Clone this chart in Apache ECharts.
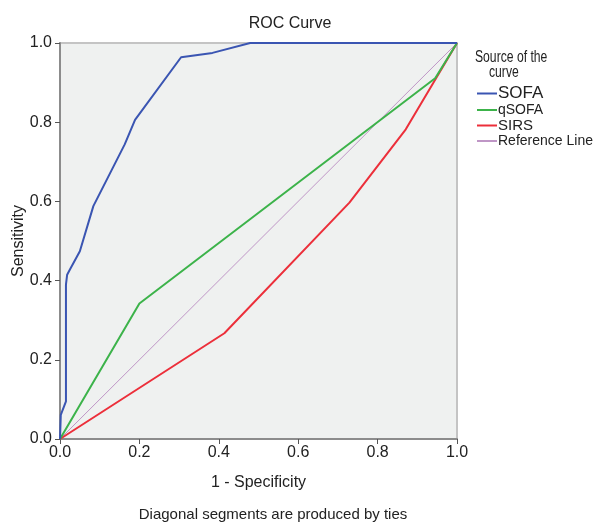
<!DOCTYPE html>
<html><head><meta charset="utf-8">
<script src="https://cdn.jsdelivr.net/npm/echarts@6/dist/echarts.min.js"></script>
<style>html,body{margin:0;padding:0;background:#fff}#c{width:595px;height:525px}</style>
</head><body><div id="c"></div>
<script>
const FONT = '"Liberation Sans Narrow", "Liberation Sans", Arial, sans-serif';
const seriesNames = ['SOFA', 'qSOFA', 'SIRS', 'Reference Line'];
const sofaX = [0, 0.002, 0.015, 0.015, 0.018, 0.025, 0.05, 0.084, 0.163, 0.189, 0.305, 0.384, 0.479, 1.0];
const sofaY = [0, 0.061, 0.095, 0.39, 0.415, 0.428, 0.474, 0.588, 0.744, 0.806, 0.964, 0.975, 1.0, 1.0];
const qsofaX = [0, 0.2, 0.945, 1.0];
const qsofaY = [0, 0.342, 0.911, 1.0];
const sirsX = [0, 0.414, 0.729, 0.871, 1.0];
const sirsY = [0, 0.267, 0.597, 0.782, 1.0];
const refX = [0, 1];
const refY = [0, 1];
const colors = ['#3a55b2', '#3cb34a', '#ec2f3a', '#bf96c6'];
const widths = [2, 2, 2, 1];
const xs = [sofaX, qsofaX, sirsX, refX];
const ys = [sofaY, qsofaY, sirsY, refY];
const legendFont = {SOFA: 17, qSOFA: 14, SIRS: 15, 'Reference Line': 14};

const chart = echarts.init(document.getElementById('c'), null, {renderer: 'canvas'});
const rich = {};
seriesNames.forEach((n, i) => { rich['r' + i] = {fontSize: legendFont[n], fontFamily: FONT, color: '#222', lineHeight: 15}; });
const labelStyle = {fontFamily: FONT, fontSize: 16, color: '#222', formatter: v => v.toFixed(1)};
const axisCommon = {
  type: 'value', min: 0, max: 1, interval: 0.2,
  axisLine: {show: true, lineStyle: {color: '#8c8c8c', width: 2}},
  axisTick: {show: true, length: 5, lineStyle: {color: '#555', width: 1}},
  splitLine: {show: false},
  nameMoveOverlap: false,
  nameTextStyle: {fontFamily: FONT, fontSize: 16, color: '#222'}
};
chart.setOption({
  animation: false,
  backgroundColor: '#fff',
  grid: {left: 60, right: 138, top: 43, bottom: 86, containLabel: false, outerBoundsMode: 'none',
    show: true, backgroundColor: '#eff1f0', borderColor: '#c4c4c4', borderWidth: 2},
  xAxis: Object.assign({}, axisCommon, {name: '1 - Specificity', nameLocation: 'middle', nameGap: 36,
    axisLabel: Object.assign({}, labelStyle, {margin: 6})}),
  yAxis: Object.assign({}, axisCommon, {name: 'Sensitivity', nameLocation: 'middle', nameGap: 33,
    axisLabel: Object.assign({}, labelStyle, {margin: 8})}),
  legend: {
    orient: 'vertical', left: 472, top: 80, itemWidth: 20, itemHeight: 2, itemGap: 1,
    icon: 'rect', data: seriesNames,
    formatter: n => '{r' + seriesNames.indexOf(n) + '|' + n + '}',
    textStyle: {rich: rich, padding: [0, 0, 0, -4]}
  },
  graphic: [
    {type: 'text', x: 290, y: 16, style: {text: 'ROC Curve', font: '16px ' + FONT, fill: '#222', align: 'center'}},
    {type: 'text', x: 475, y: 50, scaleX: 0.76, style: {text: 'Source of the', font: '16px ' + FONT, fill: '#222'}},
    {type: 'text', x: 489, y: 65, scaleX: 0.76, style: {text: 'curve', font: '16px ' + FONT, fill: '#222'}},
    {type: 'text', x: 273, y: 507, style: {text: 'Diagonal segments are produced by ties', font: '15px ' + FONT, fill: '#222', align: 'center'}}
  ],
  series: seriesNames.map((n, i) => ({
    name: n, type: 'line', symbol: 'none', z: 10 - i,
    lineStyle: {color: colors[i], width: widths[i]}, itemStyle: {color: colors[i]},
    data: xs[i].map((x, k) => [x, ys[i][k]])
  }))
});
</script></body></html>
